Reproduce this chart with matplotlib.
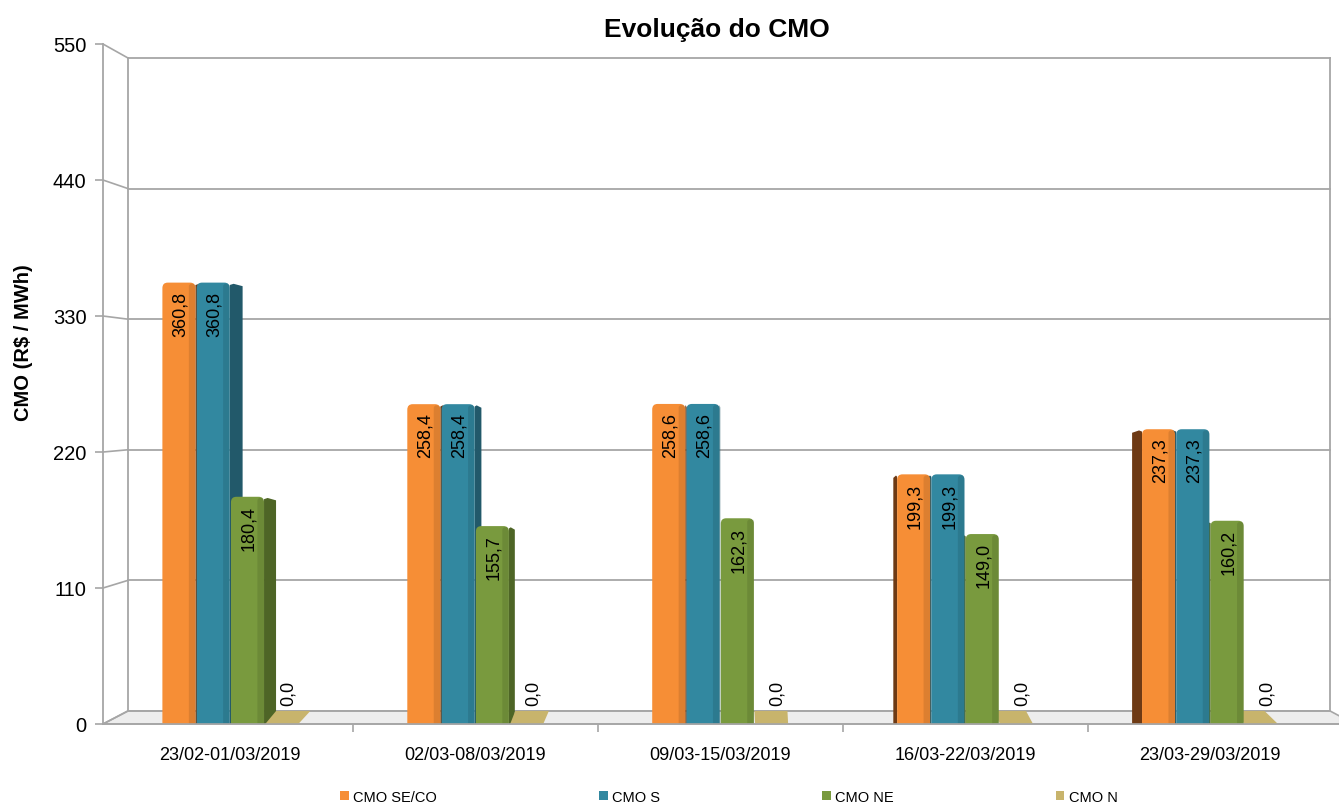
import numpy as np
import matplotlib.pyplot as plt
import matplotlib.transforms as mtransforms
from matplotlib.patches import Polygon, Patch, FancyBboxPatch

plt.rcParams['font.family'] = ['Liberation Sans Narrow', 'Liberation Sans', 'DejaVu Sans']

semanas = ["23/02-01/03/2019", "02/03-08/03/2019", "09/03-15/03/2019",
           "16/03-22/03/2019", "23/03-29/03/2019"]
cmo_seco = [360.8, 258.4, 258.6, 199.3, 237.3]
cmo_s = [360.8, 258.4, 258.6, 199.3, 237.3]
cmo_ne = [180.4, 155.7, 162.3, 149.0, 160.2]
cmo_n = [0.0, 0.0, 0.0, 0.0, 0.0]
series_names = ["CMO SE/CO", "CMO S", "CMO NE", "CMO N"]
y_ticks = [0, 110, 220, 330, 440, 550]

front_cols = ['#F68E36', '#3288A0', '#799A3E', '#C8B46C']
side_cols = ['#6E3A14', '#22596A', '#4E6526', '#9A8A4A']
grid_col = '#A6A6A6'

W, H = 1339, 812
fig = plt.figure(figsize=(W / 100, H / 100), dpi=100)


def px(l, t, r, b):
    return [l / W, 1 - b / H, (r - l) / W, (b - t) / H]


floor = -11
ax = fig.add_axes(px(103, 59, 1330, 725))
ax.set_xlim(-0.52, 4.49)
ax.set_ylim(floor, 550)
ax.patch.set_visible(False)
for s in ax.spines.values():
    s.set_visible(False)
blend = mtransforms.blended_transform_factory(ax.transAxes, ax.transData)
wl = 25 / 1227  # back wall left edge (axes fraction)
fr = 1.008      # front right corner of the floor (axes fraction)

# floor
ax.add_patch(Polygon([(wl, 0), (1, 0), (fr, floor * 0.4), (fr, floor), (0, floor)],
                     closed=True, transform=blend, facecolor='#EDEDED', edgecolor=grid_col,
                     lw=1.2, clip_on=False, zorder=1))

# back wall gridlines + connectors to front axis
for v in y_ticks:
    ax.plot([wl, 1], [v, v], transform=blend, color=grid_col, lw=1.3, zorder=1, clip_on=False)
    ax.plot([0, wl], [floor + 1.0414 * v, v], transform=blend, color=grid_col, lw=1.2,
            zorder=1, clip_on=False)
ax.plot([wl, wl], [0, 550], transform=blend, color=grid_col, lw=1.3, zorder=1, clip_on=False)
ax.plot([1, 1], [0, 550], transform=blend, color=grid_col, lw=1.3, zorder=1, clip_on=False)

# bars
x = np.arange(len(semanas))
offsets = [-0.21, -0.07, 0.07, 0.21]
w = 0.135
xv, k = 2.1, 0.025
series = [cmo_seco, cmo_s, cmo_ne, cmo_n]

for i, vals in enumerate(series[:3]):
    for c0, v in zip(x, vals):
        c = c0 + offsets[i]
        if c < xv:
            xe = c + w / 2
            sw = k * (xv - xe)
        else:
            xe = c - w / 2
            sw = -k * (xe - xv)
        ax.add_patch(Polygon([(xe, floor), (xe + sw, floor), (xe + sw, v - 3),
                              (xe + sw * 0.3, v - 1), (xe, v - 2)],
                             closed=True, facecolor=side_cols[i], edgecolor='none', zorder=2))

rs = 0.022           # corner radius, x data units
aspect = 4.6 / rs    # same radius in y data units
for i, vals in enumerate(series[:3]):
    vals = np.array(vals)
    bars = ax.bar(x + offsets[i], vals - floor, bottom=floor, width=w, color=front_cols[i],
                  edgecolor='none', zorder=3)
    for r in bars:
        r.set_visible(False)
        bx, by = r.get_xy()
        bw, bh = r.get_width(), r.get_height()
        ax.add_patch(FancyBboxPatch((bx, by - 6), bw, bh + 6,
                                    boxstyle=f"round,pad=0,rounding_size={rs}",
                                    mutation_aspect=aspect, facecolor=front_cols[i],
                                    edgecolor='none', zorder=3))
        # soft shading to the right edge
        ax.add_patch(FancyBboxPatch((bx + bw * 0.8, by - 6), bw * 0.2, bh + 5,
                                    boxstyle=f"round,pad=0,rounding_size={rs * 0.5}",
                                    mutation_aspect=aspect, facecolor='black', alpha=0.10,
                                    edgecolor='none', zorder=3.1))
    for c, v in zip(x + offsets[i], vals):
        ax.text(c + 0.005, v - 7, f"{v:.1f}".replace('.', ','), rotation=90, ha='center',
                va='top', fontsize=13, zorder=5)

# floor front edge
ax.plot([0, fr], [floor, floor], transform=blend, color=grid_col, lw=1.2, zorder=4,
        clip_on=False)

# N series lies flat on the floor
for c0, v in zip(x, cmo_n):
    c = c0 + offsets[3]
    sh = 0.026 * (xv - c)
    ax.add_patch(Polygon([(c - w / 2, floor), (c + w / 2, floor), (c + w / 2 + sh, v),
                          (c - w / 2 + sh * 0.9, v)], closed=True,
                         facecolor=front_cols[3], edgecolor='none', zorder=2))
    ax.text(c + 0.025, v + 5, f"{v:.1f}".replace('.', ','), rotation=90, ha='center',
            va='bottom', fontsize=13, zorder=5)

ax.set_yticks([])
ax.set_xticks(x)
ax.set_xticklabels(semanas, fontsize=13)
ax.tick_params(axis='x', which='major', length=0, pad=16)
ax.set_xticks(x[:-1] + 0.5, minor=True)
ax.tick_params(axis='x', which='minor', length=6, color=grid_col, width=1.2)

# front value axis
fax = fig.add_axes(px(103, 45, 104, 725))
fax.set_ylim(0, 550)
fax.set_yticks(y_ticks)
fax.set_xticks([])
fax.patch.set_visible(False)
for name, s in fax.spines.items():
    s.set_visible(name == 'left')
fax.spines['left'].set_color(grid_col)
fax.spines['left'].set_linewidth(1.3)
fax.tick_params(axis='y', length=6, width=1.2, color=grid_col, labelsize=14.5, pad=6)

fig.text(717 / W, 1 - 30 / H, "Evolução do CMO", ha='center', va='center',
         fontsize=19, fontweight='bold', family='Liberation Sans')
fig.text(24 / W, 1 - 343 / H, r"CMO (R\$ / MWh)", ha='center', va='center', rotation=90,
         fontsize=14.5, fontweight='bold', family='Liberation Sans')

handles = [Patch(facecolor=c, edgecolor='none') for c in front_cols]
fig.legend(handles, series_names, loc='lower left',
           bbox_to_anchor=(333 / W, 0.0, (1125 - 333) / W, 28 / H), mode='expand',
           ncol=4, frameon=False, fontsize=10.5, handlelength=0.6, handleheight=0.6,
           handletextpad=0.3, borderaxespad=0.1)

fig.savefig("out.png", dpi=100)
